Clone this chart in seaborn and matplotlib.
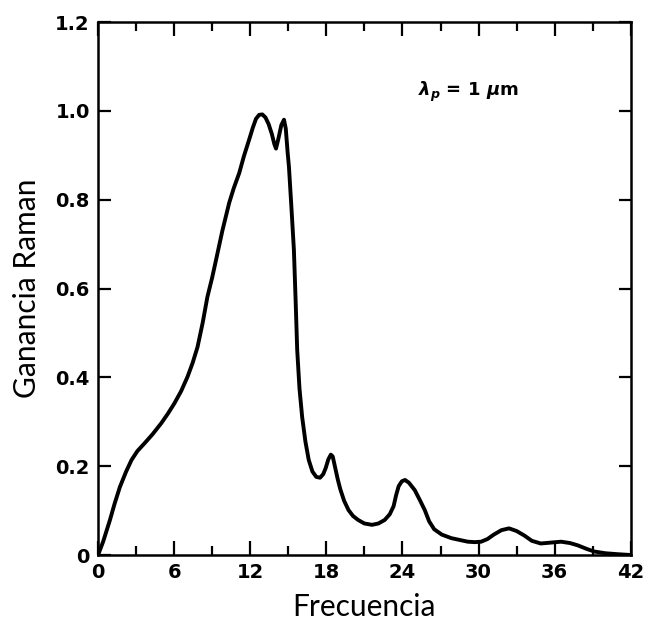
import matplotlib
matplotlib.use("Agg")
import matplotlib.pyplot as plt
import seaborn as sns
import pandas as pd

# Raman gain spectrum of fused silica (pump at 1 um)
frecuencia = [0.0, 0.4, 0.94, 1.3, 1.72, 2.2, 2.64, 3.1, 3.68, 4.3, 4.99, 5.5,
              6.03, 6.55, 7.05, 7.45, 7.84, 8.25, 8.62, 9.0, 9.3, 9.8, 10.34,
              10.7, 11.13, 11.5, 11.91, 12.2, 12.45, 12.7, 12.95, 13.2, 13.45,
              13.7, 13.9, 14.03, 14.2, 14.45, 14.66, 14.8, 14.95, 15.05, 15.25,
              15.44, 15.58, 15.7, 15.88, 16.09, 16.35, 16.61, 16.9, 17.2, 17.5,
              17.75, 17.95, 18.15, 18.35, 18.5, 18.7, 18.9, 19.1, 19.4, 19.75,
              20.1, 20.5, 21.0, 21.6, 22.1, 22.6, 23.0, 23.3, 23.5, 23.7, 23.95,
              24.2, 24.5, 24.97, 25.4, 25.76, 26.1, 26.5, 27.1, 27.85, 28.5,
              29.15, 29.7, 30.2, 30.7, 31.2, 31.8, 32.4, 33.0, 33.6, 34.2, 34.9,
              35.7, 36.5, 37.2, 37.8, 38.5, 39.1, 40.0, 40.9, 42.0]
ganancia = [0.0, 0.030, 0.079, 0.115, 0.153, 0.187, 0.214, 0.234, 0.252, 0.272,
            0.297, 0.318, 0.342, 0.369, 0.401, 0.432, 0.468, 0.523, 0.581, 0.625,
            0.664, 0.730, 0.793, 0.826, 0.860, 0.898, 0.935, 0.962, 0.982, 0.991,
            0.992, 0.985, 0.970, 0.948, 0.925, 0.915, 0.935, 0.968, 0.980, 0.960,
            0.905, 0.874, 0.780, 0.687, 0.570, 0.462, 0.375, 0.311, 0.255, 0.214,
            0.188, 0.176, 0.174, 0.182, 0.196, 0.215, 0.226, 0.222, 0.196, 0.170,
            0.148, 0.122, 0.101, 0.088, 0.079, 0.071, 0.068, 0.071, 0.079, 0.092,
            0.110, 0.135, 0.155, 0.166, 0.169, 0.163, 0.146, 0.122, 0.101, 0.076,
            0.058, 0.046, 0.038, 0.034, 0.030, 0.029, 0.030, 0.036, 0.046, 0.056,
            0.060, 0.054, 0.044, 0.032, 0.026, 0.028, 0.030, 0.027, 0.022, 0.014,
            0.008, 0.004, 0.002, 0.0]

xticks = [0, 6, 12, 18, 24, 30, 36, 42]
yticks = [0, 0.2, 0.4, 0.6, 0.8, 1.0, 1.2]
ytick_labels = ["0", "0.2", "0.4", "0.6", "0.8", "1.0", "1.2"]

df = pd.DataFrame({"Frecuencia": frecuencia, "Ganancia": ganancia})

sns.set_style("ticks")
plt.rcParams["font.family"] = ["DejaVu Sans"]
plt.rcParams["text.color"] = "black"
plt.rcParams["xtick.color"] = "black"
plt.rcParams["ytick.color"] = "black"
plt.rcParams["axes.labelcolor"] = "black"
plt.rcParams["mathtext.fontset"] = "custom"
plt.rcParams["mathtext.rm"] = "DejaVu Sans:bold"
plt.rcParams["mathtext.it"] = "DejaVu Sans:bold:italic"

fig = plt.figure(figsize=(6.45, 6.29), dpi=100)
ax = fig.add_axes([0.152, 0.1176, 0.826, 0.8474])

sns.lineplot(data=df, x="Frecuencia", y="Ganancia", ax=ax, color="black",
             linewidth=2.8, sort=False, solid_joinstyle="round",
             solid_capstyle="round")

ax.set_xlim(0, 42)
ax.set_ylim(0, 1.2)

ax.set_xticks(xticks)
ax.set_xticks(list(range(3, 42, 6)), minor=True)
ax.set_yticks(yticks)
ax.set_yticklabels(ytick_labels)
ax.set_xticklabels([str(t) for t in xticks])

ax.tick_params(which="major", direction="in", length=10, width=1.6,
               top=True, right=True, labelsize=14, pad=6)
ax.tick_params(which="minor", direction="in", length=6.5, width=1.6,
               top=True, right=False, left=False)
ax.tick_params(axis="y", which="major", length=9)
for lab in ax.get_xticklabels() + ax.get_yticklabels():
    lab.set_fontweight("bold")

for sp in ax.spines.values():
    sp.set_linewidth(1.8)
    sp.set_color("black")

ax.set_xlabel("Frecuencia", fontsize=21.5, family=["Lato", "DejaVu Sans"], labelpad=8)
ax.set_ylabel("Ganancia Raman", fontsize=21.5, family=["Lato", "DejaVu Sans"], labelpad=10)

ax.text(25.2, 1.043, r"$\lambda_p$ = 1 $\mu$m", fontsize=13, fontweight="bold",
        va="center", ha="left")

fig.savefig("out.png", dpi=100, facecolor="white")
